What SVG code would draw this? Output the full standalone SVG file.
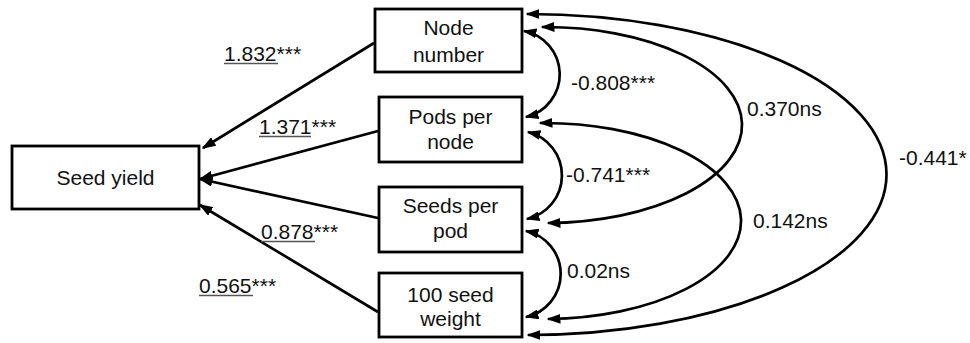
<svg xmlns="http://www.w3.org/2000/svg" width="970" height="343" viewBox="0 0 970 343">
<defs>
<marker id="ah" viewBox="0 0 14 10" refX="12.5" refY="5" markerWidth="14" markerHeight="10" markerUnits="userSpaceOnUse" orient="auto-start-reverse">
<path d="M0,0 L14,5 L0,10 Z" fill="#000"/>
</marker>
<style>
.box{fill:#fff;stroke:#000;stroke-width:2.8}
.nt{font-family:"Liberation Sans",Arial,sans-serif;font-size:21px;fill:#111;text-anchor:middle}
.lb{font-family:"Liberation Sans",Arial,sans-serif;font-size:21px;fill:#111}
.ul{stroke:#555;stroke-width:1.4}
.c{fill:none;stroke:#000;stroke-width:2.7}
.d{marker-end:url(#ah)}
.b{marker-start:url(#ah);marker-end:url(#ah)}
</style>
</defs>
<rect width="970" height="343" fill="#fff"/>
<g id="connectors">
<line class="c d" x1="374" y1="43" x2="203" y2="148"/>
<line class="c d" x1="378" y1="131" x2="200" y2="179"/>
<line class="c d" x1="378" y1="218" x2="200" y2="179"/>
<line class="c d" x1="378" y1="312" x2="200" y2="205"/>
<path class="c b" d="M524,31 A44,44 0 0 1 526,117"/>
<path class="c b" d="M528,132 A44.7,44.7 0 0 1 527,219"/>
<path class="c b" d="M526,231 A44,44 0 0 1 526,317"/>
<path class="c b" d="M542,27 A197,98 0 0 1 548,223"/>
<path class="c b" d="M540,123 A197,98 0 0 1 548,319"/>
<path class="c b" d="M527,14 A359,160.5 0 0 1 528,335"/>
</g>
<g id="seed-yield">
<rect class="box" x="12" y="146" width="187" height="63"/>
<text class="nt" x="105.5" y="185">Seed yield</text>
</g>
<g id="node-number">
<rect class="box" x="375" y="9" width="147" height="63"/>
<text class="nt" x="448.5" y="35">Node</text>
<text class="nt" x="448.5" y="62">number</text>
</g>
<g id="pods-per-node">
<rect class="box" x="379" y="97" width="143" height="65"/>
<text class="nt" x="450.5" y="124">Pods per</text>
<text class="nt" x="450.5" y="149">node</text>
</g>
<g id="seeds-per-pod">
<rect class="box" x="379" y="187" width="143" height="65"/>
<text class="nt" x="450.5" y="213">Seeds per</text>
<text class="nt" x="450.5" y="238">pod</text>
</g>
<g id="seed-weight">
<rect class="box" x="379" y="273" width="143" height="64"/>
<text class="nt" x="450.5" y="302">100 seed</text>
<text class="nt" x="450.5" y="326">weight</text>
</g>
<g id="labels">
<text class="lb" x="224" y="61">1.832***</text>
<line class="ul" x1="224" y1="63.5" x2="278" y2="63.5"/>
<text class="lb" x="259" y="134">1.371***</text>
<line class="ul" x1="259" y1="136.5" x2="311" y2="136.5"/>
<text class="lb" x="261" y="239">0.878***</text>
<line class="ul" x1="261" y1="241.5" x2="315" y2="241.5"/>
<text class="lb" x="199" y="293">0.565***</text>
<line class="ul" x1="199" y1="295.5" x2="253" y2="295.5"/>
<text class="lb" x="571" y="90">-0.808***</text>
<text class="lb" x="566" y="182">-0.741***</text>
<text class="lb" x="567" y="278">0.02ns</text>
<text class="lb" x="747" y="116">0.370ns</text>
<text class="lb" x="753" y="228">0.142ns</text>
<text class="lb" x="899" y="165">-0.441*</text>
</g>
</svg>
